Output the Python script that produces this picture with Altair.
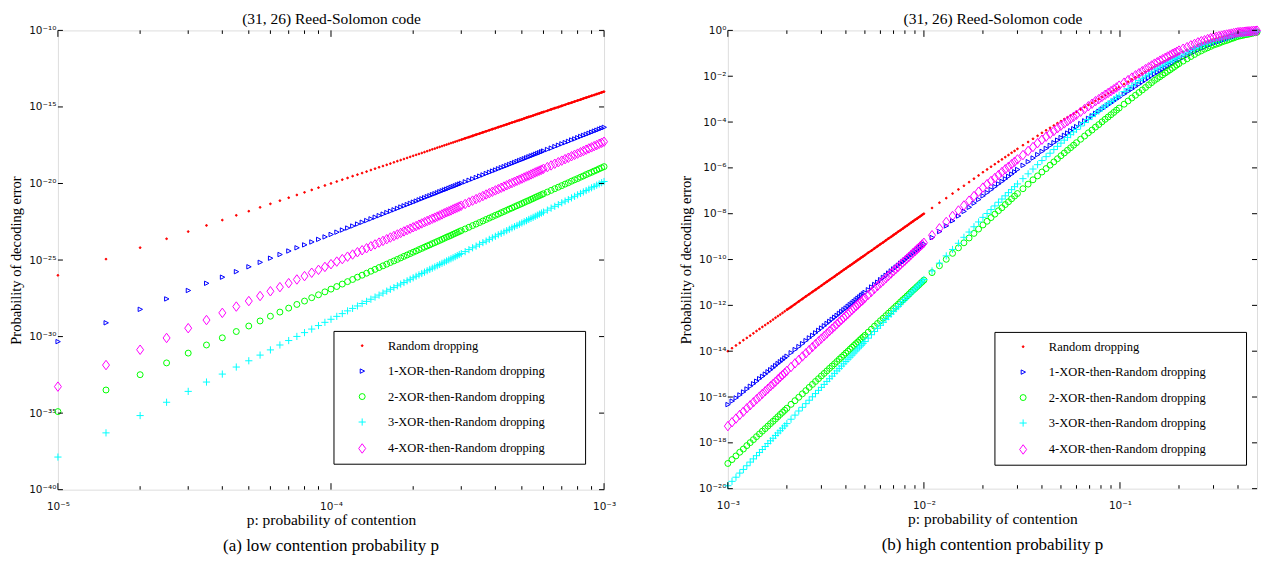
import math
import altair as alt
import pandas as pd

# ---------------------------------------------------------------- series
SERIES = ["Random dropping", "1-XOR-then-Random dropping", "2-XOR-then-Random dropping",
          "3-XOR-then-Random dropping", "4-XOR-then-Random dropping"]
COLORS = ["#ff0000", "#0000ff", "#00ff00", "#00ffff", "#ff00ff"]
FILLS = ["#ff0000", "transparent", "transparent", "transparent", "transparent"]
SHAPES = ["circle", "M-0.9,-1L1.1,0L-0.9,1Z", "circle", "M-1,0L1,0M0,-1L0,1",
          "M0,-1.15L0.85,0L0,1.15L-0.85,0Z"]
SIZES = [3, 68, 48, 64, 60]

TITLE = "(31, 26) Reed-Solomon code"
XTITLE = "p: probability of contention"
YTITLE = "Probability of decoding error"
CAPTION_A = "(a)  low contention probability p"
CAPTION_B = "(b)  high contention probability p"

# ---------------------------------------------------------------- left panel data
# contention probability, in units of 1e-6
P_LEFT_MICRO = [10, 15, 20, 25, 30, 35, 40, 45, 50, 55, 60, 65, 70, 75, 80, 85, 90, 95, 100, 105,
                110, 115, 120, 125, 130, 135, 140, 145, 150, 155, 160, 165, 170, 175, 180, 185, 190, 195, 200, 205,
                210, 215, 220, 225, 230, 235, 240, 245, 250, 255, 260, 265, 270, 275, 280, 285, 290, 295, 300,
                310, 320, 330, 340, 350, 360, 370, 380, 390, 400, 410, 420, 430, 440, 450, 460, 470, 480, 490, 500,
                510, 520, 530, 540, 550, 560, 570, 580, 590, 600,
                620, 640, 660, 680, 700, 720, 740, 760, 780, 800, 820, 840, 860, 880, 900, 920, 940, 960, 980, 1000]

# log10 of the probability of decoding error
RED_L = [-26.00, -24.94, -24.19, -23.61, -23.14, -22.74, -22.39, -22.08, -21.81, -21.56,
         -21.33, -21.12, -20.93, -20.75, -20.58, -20.42, -20.27, -20.13, -20.00, -19.87,
         -19.75, -19.64, -19.52, -19.42, -19.32, -19.22, -19.12, -19.03, -18.94, -18.86,
         -18.78, -18.70, -18.62, -18.54, -18.47, -18.40, -18.33, -18.26, -18.19, -18.13,
         -18.07, -18.01, -17.95, -17.89, -17.83, -17.77, -17.72, -17.66, -17.61, -17.56,
         -17.51, -17.46, -17.41, -17.36, -17.32, -17.27, -17.23, -17.18, -17.14,
         -17.05, -16.97, -16.89, -16.81, -16.74, -16.66, -16.59, -16.52, -16.45, -16.39,
         -16.32, -16.26, -16.20, -16.14, -16.08, -16.02, -15.97, -15.91, -15.86, -15.81,
         -15.75, -15.70, -15.65, -15.61, -15.56, -15.51, -15.46, -15.42, -15.37, -15.33,
         -15.25, -15.16, -15.08, -15.01, -14.93, -14.86, -14.78, -14.72, -14.65, -14.58,
         -14.52, -14.45, -14.39, -14.33, -14.27, -14.22, -14.16, -14.11, -14.05, -14.00]
BLUE_L = [-30.33, -29.10, -28.22, -27.54, -26.99, -26.52, -26.12, -25.76, -25.44, -25.15,
          -24.88, -24.64, -24.41, -24.20, -24.01, -23.82, -23.65, -23.49, -23.33, -23.18,
          -23.04, -22.91, -22.78, -22.65, -22.53, -22.42, -22.31, -22.20, -22.10, -22.00,
          -21.90, -21.81, -21.72, -21.63, -21.54, -21.46, -21.38, -21.30, -21.22, -21.15,
          -21.07, -21.00, -20.93, -20.86, -20.80, -20.73, -20.67, -20.61, -20.54, -20.48,
          -20.42, -20.37, -20.31, -20.25, -20.20, -20.15, -20.09, -20.04, -19.99,
          -19.89, -19.79, -19.70, -19.61, -19.52, -19.44, -19.35, -19.27, -19.19, -19.12,
          -19.04, -18.97, -18.90, -18.83, -18.76, -18.69, -18.63, -18.56, -18.50, -18.44,
          -18.38, -18.32, -18.26, -18.20, -18.15, -18.09, -18.04, -17.99, -17.93, -17.88,
          -17.78, -17.69, -17.59, -17.50, -17.41, -17.33, -17.25, -17.16, -17.09, -17.01,
          -16.93, -16.86, -16.79, -16.72, -16.65, -16.58, -16.52, -16.45, -16.39, -16.33]
GREEN_L = [-34.90, -33.49, -32.49, -31.72, -31.08, -30.55, -30.08, -29.67, -29.31, -28.98,
           -28.67, -28.40, -28.14, -27.90, -27.68, -27.46, -27.27, -27.08, -26.90, -26.73,
           -26.57, -26.41, -26.27, -26.12, -25.99, -25.86, -25.73, -25.61, -25.49, -25.38,
           -25.27, -25.16, -25.06, -24.96, -24.86, -24.76, -24.67, -24.58, -24.49, -24.41,
           -24.32, -24.24, -24.16, -24.08, -24.01, -23.93, -23.86, -23.79, -23.72, -23.65,
           -23.58, -23.51, -23.45, -23.39, -23.32, -23.26, -23.20, -23.14, -23.08,
           -22.97, -22.86, -22.75, -22.65, -22.55, -22.45, -22.35, -22.26, -22.17, -22.08,
           -22.00, -21.91, -21.83, -21.75, -21.67, -21.60, -21.52, -21.45, -21.38, -21.31,
           -21.24, -21.17, -21.11, -21.04, -20.98, -20.91, -20.85, -20.79, -20.73, -20.67,
           -20.56, -20.45, -20.34, -20.24, -20.14, -20.04, -19.95, -19.85, -19.76, -19.68,
           -19.59, -19.51, -19.42, -19.34, -19.27, -19.19, -19.12, -19.04, -18.97, -18.90]
CYAN_L = [-37.87, -36.29, -35.16, -34.29, -33.58, -32.97, -32.45, -31.99, -31.58, -31.21,
          -30.87, -30.55, -30.26, -29.99, -29.74, -29.51, -29.28, -29.07, -28.87, -28.68,
          -28.50, -28.32, -28.16, -28.00, -27.84, -27.70, -27.56, -27.42, -27.29, -27.16,
          -27.03, -26.91, -26.80, -26.68, -26.57, -26.47, -26.36, -26.26, -26.16, -26.06,
          -25.97, -25.88, -25.79, -25.70, -25.61, -25.53, -25.45, -25.37, -25.29, -25.21,
          -25.14, -25.06, -24.99, -24.92, -24.85, -24.78, -24.71, -24.64, -24.58,
          -24.45, -24.32, -24.20, -24.09, -23.97, -23.86, -23.76, -23.65, -23.55, -23.45,
          -23.35, -23.26, -23.17, -23.08, -22.99, -22.90, -22.82, -22.74, -22.66, -22.58,
          -22.50, -22.43, -22.35, -22.28, -22.21, -22.14, -22.07, -22.00, -21.93, -21.87,
          -21.74, -21.61, -21.49, -21.38, -21.26, -21.15, -21.05, -20.94, -20.84, -20.74,
          -20.65, -20.55, -20.46, -20.37, -20.28, -20.20, -20.11, -20.03, -19.95, -19.87]
MAGENTA_L = [-33.27, -31.86, -30.86, -30.09, -29.45, -28.92, -28.45, -28.04, -27.68, -27.35,
             -27.04, -26.77, -26.51, -26.27, -26.05, -25.83, -25.64, -25.45, -25.27, -25.10,
             -24.94, -24.78, -24.64, -24.49, -24.36, -24.23, -24.10, -23.98, -23.86, -23.75,
             -23.64, -23.53, -23.43, -23.33, -23.23, -23.13, -23.04, -22.95, -22.86, -22.78,
             -22.69, -22.61, -22.53, -22.45, -22.38, -22.30, -22.23, -22.16, -22.09, -22.02,
             -21.95, -21.88, -21.82, -21.76, -21.69, -21.63, -21.57, -21.51, -21.45,
             -21.34, -21.23, -21.12, -21.02, -20.92, -20.82, -20.72, -20.63, -20.54, -20.45,
             -20.37, -20.28, -20.20, -20.12, -20.04, -19.97, -19.89, -19.82, -19.75, -19.68,
             -19.61, -19.54, -19.48, -19.41, -19.35, -19.28, -19.22, -19.16, -19.10, -19.04,
             -18.93, -18.82, -18.71, -18.61, -18.51, -18.41, -18.32, -18.22, -18.13, -18.05,
             -17.96, -17.88, -17.79, -17.71, -17.64, -17.56, -17.49, -17.41, -17.34, -17.27]

# ---------------------------------------------------------------- right panel data
# low part, contention probability in units of 1e-5
P_RIGHT_LOW = [100, 105, 110, 115, 120, 125, 130, 135, 140, 145, 150, 155, 160, 165, 170, 175, 180, 185, 190, 195, 200,
               210, 220, 230, 240, 250, 260, 270, 280, 290, 300, 310, 320, 330, 340, 350, 360, 370, 380, 390, 400,
               410, 420, 430, 440, 450, 460, 470, 480, 490, 500,
               520, 540, 560, 580, 600, 620, 640, 660, 680, 700, 720, 740, 760, 780, 800, 820, 840, 860, 880, 900,
               920, 940, 960, 980, 1000]
# high part, contention probability
P_RIGHT_HIGH = [0.011, 0.012, 0.013, 0.014, 0.015, 0.016, 0.017, 0.018, 0.019, 0.020,
                0.021, 0.022, 0.023, 0.024, 0.025, 0.026, 0.027, 0.028, 0.029, 0.030,
                0.032, 0.034, 0.036, 0.038, 0.040, 0.042, 0.044, 0.046, 0.048, 0.050,
                0.052, 0.054, 0.056, 0.058, 0.060,
                0.063, 0.066, 0.069, 0.072, 0.075, 0.078, 0.081, 0.084, 0.087, 0.090, 0.093, 0.096, 0.099,
                0.105, 0.110, 0.115, 0.120, 0.125, 0.130, 0.135, 0.140, 0.145, 0.150,
                0.155, 0.160, 0.165, 0.170, 0.175, 0.180, 0.185, 0.190, 0.195, 0.200,
                0.21, 0.22, 0.23, 0.24, 0.25, 0.26, 0.27, 0.28, 0.29, 0.30,
                0.31, 0.32, 0.33, 0.34, 0.35, 0.36, 0.37, 0.38, 0.39, 0.40,
                0.41, 0.42, 0.43, 0.44, 0.45, 0.46, 0.47, 0.48, 0.49, 0.50]

RED_RL = [-14.00, -13.87, -13.75, -13.64, -13.52, -13.42, -13.32, -13.22, -13.12, -13.03, -12.94,
          -12.86, -12.78, -12.70, -12.62, -12.54, -12.47, -12.40, -12.33, -12.26, -12.19,
          -12.07, -11.95, -11.83, -11.72, -11.61, -11.51, -11.41, -11.32, -11.23, -11.14,
          -11.05, -10.97, -10.89, -10.81, -10.74, -10.66, -10.59, -10.52, -10.45, -10.39,
          -10.32, -10.26, -10.20, -10.14, -10.08, -10.02, -9.97, -9.91, -9.86, -9.81,
          -9.70, -9.61, -9.51, -9.42, -9.33, -9.25, -9.16, -9.08, -9.01, -8.93, -8.86, -8.78, -8.72,
          -8.65, -8.58, -8.52, -8.45, -8.39, -8.33, -8.27, -8.22, -8.16, -8.11, -8.05, -8.00]
BLUE_RL = [-16.33, -16.18, -16.04, -15.91, -15.78, -15.65, -15.53, -15.42, -15.31, -15.20, -15.10,
           -15.00, -14.90, -14.81, -14.72, -14.63, -14.54, -14.46, -14.38, -14.30, -14.22,
           -14.07, -13.93, -13.80, -13.67, -13.54, -13.42, -13.31, -13.20, -13.09, -12.99,
           -12.89, -12.79, -12.70, -12.61, -12.52, -12.44, -12.35, -12.27, -12.19, -12.12,
           -12.04, -11.97, -11.90, -11.83, -11.76, -11.69, -11.63, -11.56, -11.50, -11.44,
           -11.32, -11.20, -11.09, -10.99, -10.88, -10.78, -10.69, -10.59, -10.50, -10.41, -10.33,
           -10.25, -10.16, -10.09, -10.01, -9.93, -9.86, -9.79, -9.72, -9.65, -9.58, -9.52, -9.45, -9.39, -9.33]
GREEN_RL = [-18.90, -18.73, -18.57, -18.41, -18.27, -18.12, -17.99, -17.86, -17.73, -17.61, -17.49,
            -17.38, -17.27, -17.16, -17.06, -16.96, -16.86, -16.76, -16.67, -16.58, -16.49,
            -16.32, -16.16, -16.01, -15.86, -15.72, -15.58, -15.45, -15.32, -15.20, -15.08,
            -14.97, -14.86, -14.75, -14.65, -14.55, -14.45, -14.35, -14.26, -14.17, -14.08,
            -14.00, -13.91, -13.83, -13.75, -13.67, -13.60, -13.52, -13.45, -13.38, -13.31,
            -13.17, -13.04, -12.91, -12.79, -12.67, -12.56, -12.45, -12.34, -12.24, -12.14, -12.04,
            -11.95, -11.85, -11.76, -11.68, -11.59, -11.51, -11.42, -11.34, -11.27, -11.19, -11.12,
            -11.04, -10.97, -10.90]
CYAN_RL = [-19.87, -19.68, -19.50, -19.32, -19.16, -19.00, -18.84, -18.70, -18.56, -18.42, -18.29,
           -18.16, -18.03, -17.91, -17.80, -17.68, -17.57, -17.47, -17.36, -17.26, -17.16,
           -16.97, -16.79, -16.61, -16.45, -16.29, -16.14, -15.99, -15.85, -15.71, -15.58,
           -15.45, -15.32, -15.20, -15.09, -14.97, -14.86, -14.76, -14.65, -14.55, -14.45,
           -14.35, -14.26, -14.17, -14.08, -13.99, -13.90, -13.82, -13.74, -13.66, -13.58,
           -13.43, -13.28, -13.14, -13.00, -12.87, -12.74, -12.61, -12.49, -12.38, -12.26, -12.15,
           -12.05, -11.94, -11.84, -11.74, -11.65, -11.55, -11.46, -11.37, -11.28, -11.20, -11.11,
           -11.03, -10.95, -10.87]
MAGENTA_RL = [-17.27, -17.10, -16.94, -16.78, -16.64, -16.49, -16.36, -16.23, -16.10, -15.98, -15.86,
              -15.75, -15.64, -15.53, -15.43, -15.33, -15.23, -15.13, -15.04, -14.95, -14.86,
              -14.69, -14.53, -14.38, -14.23, -14.09, -13.95, -13.82, -13.69, -13.57, -13.45,
              -13.34, -13.23, -13.12, -13.02, -12.92, -12.82, -12.72, -12.63, -12.54, -12.45,
              -12.37, -12.28, -12.20, -12.12, -12.04, -11.97, -11.89, -11.82, -11.75, -11.68,
              -11.54, -11.41, -11.28, -11.16, -11.04, -10.93, -10.82, -10.71, -10.61, -10.51, -10.41,
              -10.32, -10.22, -10.13, -10.05, -9.96, -9.88, -9.79, -9.71, -9.64, -9.56, -9.49,
              -9.41, -9.34, -9.27]

RED_RH = [-7.75, -7.52, -7.32, -7.12, -6.94, -6.78, -6.62, -6.47, -6.33, -6.19,
          -6.07, -5.95, -5.84, -5.73, -5.63, -5.53, -5.44, -5.34, -5.26, -5.17,
          -5.01, -4.87, -4.73, -4.60, -4.47, -4.36, -4.25, -4.15, -4.05, -3.96,
          -3.87, -3.79, -3.71, -3.64, -3.56,
          -3.45, -3.35, -3.25, -3.16, -3.07, -2.99, -2.90, -2.83, -2.75, -2.68, -2.61, -2.54, -2.47,
          -2.34, -2.24, -2.14, -2.05, -1.96, -1.88, -1.80, -1.73, -1.65, -1.58,
          -1.52, -1.45, -1.39, -1.34, -1.28, -1.22, -1.17, -1.12, -1.07, -1.02,
          -0.94, -0.85, -0.78, -0.70, -0.63, -0.58, -0.52, -0.47, -0.43, -0.38,
          -0.35, -0.32, -0.29, -0.27, -0.24, -0.22, -0.19, -0.17, -0.14, -0.12,
          -0.11, -0.10, -0.09, -0.08, -0.07, -0.06, -0.06, -0.05, -0.04, -0.03]
BLUE_RH = [-9.04, -8.78, -8.53, -8.31, -8.10, -7.90, -7.72, -7.54, -7.38, -7.22,
           -7.08, -6.95, -6.82, -6.70, -6.59, -6.48, -6.37, -6.27, -6.17, -6.07,
           -5.89, -5.73, -5.57, -5.42, -5.28, -5.15, -5.02, -4.90, -4.79, -4.68,
           -4.58, -4.48, -4.38, -4.29, -4.20,
           -4.07, -3.95, -3.84, -3.73, -3.62, -3.53, -3.43, -3.34, -3.25, -3.17, -3.08, -3.00, -2.93,
           -2.78, -2.66, -2.56, -2.45, -2.35, -2.25, -2.16, -2.07, -1.98, -1.90,
           -1.83, -1.76, -1.70, -1.63, -1.57, -1.51, -1.45, -1.39, -1.34, -1.28,
           -1.19, -1.10, -1.01, -0.93, -0.85, -0.79, -0.73, -0.67, -0.61, -0.56,
           -0.52, -0.48, -0.45, -0.41, -0.38, -0.34, -0.31, -0.28, -0.25, -0.22,
           -0.20, -0.19, -0.17, -0.16, -0.14, -0.13, -0.11, -0.10, -0.08, -0.07]
GREEN_RH = [-10.57, -10.27, -9.99, -9.73, -9.49, -9.27, -9.06, -8.86, -8.67, -8.49,
            -8.33, -8.17, -8.02, -7.87, -7.74, -7.60, -7.48, -7.35, -7.23, -7.12,
            -6.91, -6.71, -6.52, -6.35, -6.18, -6.03, -5.88, -5.74, -5.60, -5.47,
            -5.35, -5.23, -5.12, -5.01, -4.90,
            -4.75, -4.61, -4.47, -4.35, -4.22, -4.11, -3.99, -3.88, -3.78, -3.68, -3.58, -3.48, -3.39,
            -3.22, -3.08, -2.95, -2.83, -2.71, -2.60, -2.49, -2.38, -2.28, -2.18,
            -2.10, -2.02, -1.94, -1.86, -1.79, -1.72, -1.65, -1.58, -1.51, -1.45,
            -1.34, -1.24, -1.14, -1.05, -0.96, -0.89, -0.82, -0.76, -0.70, -0.64,
            -0.60, -0.56, -0.51, -0.47, -0.44, -0.40, -0.36, -0.33, -0.29, -0.26,
            -0.24, -0.22, -0.20, -0.18, -0.17, -0.15, -0.13, -0.11, -0.10, -0.08]
CYAN_RH = [-10.50, -10.16, -9.84, -9.56, -9.29, -9.03, -8.80, -8.57, -8.36, -8.16,
           -7.99, -7.82, -7.66, -7.50, -7.36, -7.22, -7.08, -6.95, -6.82, -6.70,
           -6.47, -6.26, -6.05, -5.86, -5.68, -5.51, -5.36, -5.20, -5.06, -4.92,
           -4.79, -4.67, -4.55, -4.43, -4.32,
           -4.17, -4.02, -3.89, -3.76, -3.63, -3.52, -3.40, -3.30, -3.20, -3.10, -3.01, -2.92, -2.83,
           -2.67, -2.54, -2.42, -2.30, -2.19, -2.09, -1.99, -1.90, -1.81, -1.72,
           -1.65, -1.59, -1.52, -1.46, -1.40, -1.34, -1.28, -1.23, -1.17, -1.12,
           -1.03, -0.95, -0.87, -0.79, -0.72, -0.66, -0.61, -0.56, -0.51, -0.46,
           -0.43, -0.40, -0.36, -0.33, -0.30, -0.28, -0.25, -0.22, -0.20, -0.17,
           -0.16, -0.14, -0.13, -0.12, -0.11, -0.10, -0.08, -0.07, -0.06, -0.05]
MAGENTA_RH = [-8.94, -8.64, -8.36, -8.10, -7.86, -7.64, -7.43, -7.23, -7.04, -6.86,
              -6.71, -6.57, -6.44, -6.31, -6.18, -6.06, -5.95, -5.84, -5.73, -5.63,
              -5.44, -5.26, -5.09, -4.92, -4.77, -4.64, -4.51, -4.39, -4.27, -4.16,
              -4.06, -3.96, -3.86, -3.77, -3.68,
              -3.55, -3.43, -3.31, -3.20, -3.09, -3.00, -2.90, -2.81, -2.73, -2.65, -2.57, -2.49, -2.41,
              -2.28, -2.17, -2.06, -1.96, -1.87, -1.78, -1.69, -1.61, -1.53, -1.45,
              -1.39, -1.32, -1.26, -1.20, -1.14, -1.09, -1.03, -0.98, -0.93, -0.88,
              -0.80, -0.73, -0.65, -0.59, -0.52, -0.47, -0.43, -0.38, -0.34, -0.30,
              -0.28, -0.25, -0.23, -0.20, -0.18, -0.16, -0.14, -0.12, -0.10, -0.08,
              -0.07, -0.07, -0.06, -0.05, -0.04, -0.04, -0.03, -0.02, -0.02, -0.01]

# ---------------------------------------------------------------- tick positions
X_MAJOR_L = [1e-5, 1e-4, 1e-3]
X_MINOR_L = [2e-5, 3e-5, 4e-5, 5e-5, 6e-5, 7e-5, 8e-5, 9e-5,
             2e-4, 3e-4, 4e-4, 5e-4, 6e-4, 7e-4, 8e-4, 9e-4]
Y_MAJOR_L = [1e-40, 1e-35, 1e-30, 1e-25, 1e-20, 1e-15, 1e-10]
X_MAJOR_R = [1e-3, 1e-2, 1e-1]
X_MINOR_R = [2e-3, 3e-3, 4e-3, 5e-3, 6e-3, 7e-3, 8e-3, 9e-3,
             2e-2, 3e-2, 4e-2, 5e-2, 6e-2, 7e-2, 8e-2, 9e-2,
             2e-1, 3e-1, 4e-1]
Y_MAJOR_R = [1e-20, 1e-18, 1e-16, 1e-14, 1e-12, 1e-10, 1e-8, 1e-6, 1e-4, 1e-2, 1e0]

# ---------------------------------------------------------------- helpers
SUP = str.maketrans("0123456789-", "\u2070\u00b9\u00b2\u00b3\u2074\u2075\u2076\u2077\u2078\u2079\u207b")
LABEL_FONT = "DejaVu Sans"
SERIF = "Liberation Serif"


def pow_label_expr(values):
    parts = []
    for v in sorted(values):
        e = int(round(math.log10(v)))
        parts.append(f"datum.value < {v * 3:.6g} ? '10{str(e).translate(SUP)}'")
    return " : ".join(parts) + " : ''"


def long_df(p, series_vals):
    rows = []
    for name, vals in zip(SERIES, series_vals):
        for x, e in zip(p, vals):
            rows.append({"p": x, "v": 10.0 ** e, "s": name})
    return pd.DataFrame(rows)


def panel(df, W, H, xdom, ydom, xmaj, xmin, ymaj, legend_xy, top_pad, caption, line_range):
    xs = alt.Scale(type="log", domain=xdom, nice=False)
    ys = alt.Scale(type="log", domain=ydom, nice=False)
    leg = alt.Legend(title=None, orient="none", legendX=legend_xy[0], legendY=legend_xy[1],
                     direction="vertical", fillColor="white", strokeColor="black",
                     padding=8.5, rowPadding=12.5, symbolOffset=14, labelOffset=19.5,
                     labelFont=SERIF, labelFontSize=12.5, labelColor="black",
                     symbolStrokeWidth=1, labelLimit=400,
                     labelExpr="datum.label + '" + "\u00a0" * 10 + "\u200b'")
    x_axis = alt.Axis(orient="bottom", values=xmaj, labelExpr=pow_label_expr(xmaj),
                      ticks=False, domain=False, grid=False, labelFlush=False, labelOverlap=False,
                      labelFont=LABEL_FONT, labelFontSize=10.5, labelColor="#111", labelPadding=12,
                      title=XTITLE, titleFont=SERIF, titleFontSize=15.5, titleFontWeight="normal",
                      titleColor="black", titlePadding=0)
    y_axis = alt.Axis(orient="left", values=ymaj, labelExpr=pow_label_expr(ymaj),
                      ticks=False, domain=False, grid=False, labelOverlap=False,
                      labelFont=LABEL_FONT, labelFontSize=10.5, labelColor="#111", labelPadding=2,
                      title=YTITLE, titleFont=SERIF, titleFontSize=14.5, titleFontWeight="normal",
                      titleColor="black", titlePadding=5)

    points = alt.Chart(df).mark_point(filled=False, strokeWidth=1, opacity=1).encode(
        x=alt.X("p:Q", scale=xs, axis=x_axis),
        y=alt.Y("v:Q", scale=ys, axis=y_axis),
        color=alt.Color("s:N", scale=alt.Scale(domain=SERIES, range=COLORS), legend=leg),
        fill=alt.Fill("s:N", scale=alt.Scale(domain=SERIES, range=FILLS), legend=leg),
        shape=alt.Shape("s:N", scale=alt.Scale(domain=SERIES, range=SHAPES), legend=leg),
        size=alt.Size("s:N", scale=alt.Scale(domain=SERIES, range=SIZES), legend=leg),
    )

    red = df[(df.s == SERIES[0]) & (df.p >= line_range[0]) & (df.p <= line_range[1])]
    red_line = alt.Chart(red).mark_line(color="#ff0000", strokeWidth=2.2).encode(
        x=alt.X("p:Q", scale=xs, axis=None), y=alt.Y("v:Q", scale=ys, axis=None))

    rule = dict(color="black", strokeWidth=1)
    maj = pd.DataFrame({"t": xmaj})
    mnr = pd.DataFrame({"t": xmin})
    ym = pd.DataFrame({"t": ymaj})
    top_axis = alt.Axis(orient="top", title=TITLE, labels=False, ticks=False, domain=False, grid=False,
                        titleFont=SERIF, titleFontSize=15.5, titleFontWeight="normal", titleColor="black",
                        titlePadding=top_pad)
    tick_layers = [
        alt.Chart(maj).mark_rule(**rule).encode(x=alt.X("t:Q", scale=xs, axis=None),
                                                y=alt.value(H), y2=alt.value(H - 6.5)),
        alt.Chart(maj).mark_rule(**rule).encode(x=alt.X("t:Q", scale=xs, axis=top_axis),
                                                y=alt.value(0), y2=alt.value(6.5)),
        alt.Chart(mnr).mark_rule(**rule).encode(x=alt.X("t:Q", scale=xs, axis=None),
                                                y=alt.value(H), y2=alt.value(H - 3.5)),
        alt.Chart(mnr).mark_rule(**rule).encode(x=alt.X("t:Q", scale=xs, axis=None),
                                                y=alt.value(0), y2=alt.value(3.5)),
        alt.Chart(ym).mark_rule(**rule).encode(y=alt.Y("t:Q", scale=ys, axis=None),
                                               x=alt.value(0), x2=alt.value(5)),
        alt.Chart(ym).mark_rule(**rule).encode(y=alt.Y("t:Q", scale=ys, axis=None),
                                               x=alt.value(W), x2=alt.value(W - 5)),
    ]
    return alt.layer(points, red_line, *tick_layers).resolve_axis(
        x="independent", y="independent"
    ).properties(
        width=W, height=H,
        title=alt.TitleParams(text=caption, orient="bottom", anchor="middle", frame="group",
                              font=SERIF, fontSize=17, fontWeight="normal", color="black", offset=10.5),
    )


df_left = long_df([u * 1e-6 for u in P_LEFT_MICRO],
                  [RED_L, BLUE_L, GREEN_L, CYAN_L, MAGENTA_L])
p_right = [u * 1e-5 for u in P_RIGHT_LOW] + P_RIGHT_HIGH
df_right = long_df(p_right,
                   [RED_RL + RED_RH, BLUE_RL + BLUE_RH, GREEN_RL + GREEN_RH,
                    CYAN_RL + CYAN_RH, MAGENTA_RL + MAGENTA_RH])

left = panel(df_left, 547, 460, [1e-5, 1e-3], [1e-40, 1e-10], X_MAJOR_L, X_MINOR_L, Y_MAJOR_L,
             (276, 301), 4, CAPTION_A, (3e-4, 1.01e-3))
right = panel(df_right, 530, 459, [1e-3, 0.5], [1e-20, 1.0], X_MAJOR_R, X_MINOR_R, Y_MAJOR_R,
              (267, 302), 4, CAPTION_B, (2e-3, 1.01e-2))

chart = alt.hconcat(left, right, spacing=61).resolve_scale(
    color="independent", fill="independent", shape="independent", size="independent"
).properties(
    padding={"left": 0, "top": 2, "right": 0, "bottom": 0}
).configure_view(
    stroke="black", strokeWidth=1.2
).configure(background="white")

chart.save("out.html", embed_options={"renderer": "svg", "actions": False})
